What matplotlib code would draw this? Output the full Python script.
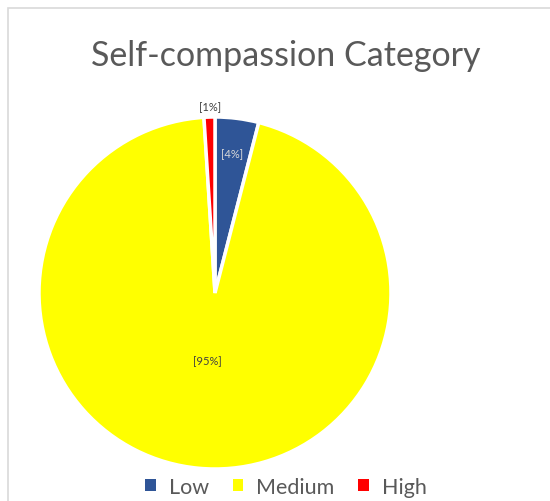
import matplotlib
matplotlib.use("Agg")
from matplotlib import pyplot as plt
from matplotlib.patches import Rectangle, Patch

categories = ["Low", "Medium", "High"]
percents = [4, 95, 1]
colors = ["#2F5597", "#FFFF00", "#FF0000"]
label_texts = ["[4%]", "[95%]", "[1%]"]

plt.rcParams['font.family'] = ['Lato', 'DejaVu Sans']

W, H = 550, 502
fig = plt.figure(figsize=(W / 100, H / 100), dpi=100)

# chart frame (cropped: only top and left borders show)
fig.patches.append(Rectangle((8 / W, -0.1), 1.2, (H - 9) / H + 0.1,
                             transform=fig.transFigure, fill=False,
                             edgecolor="#D9D9D9", linewidth=1.2))

cx, cy, r = 215, 294, 176
ax = fig.add_axes([(cx - r) / W, (H - cy - r) / H, 2 * r / W, 2 * r / H])
wedges, _ = ax.pie(percents, colors=colors, startangle=90, counterclock=False,
                   radius=1, wedgeprops=dict(edgecolor="white", linewidth=2.5))
ax.set_xlim(-1, 1)
ax.set_ylim(-1, 1)
ax.set_aspect("auto")
ax.axis("off")

# data labels
label_pos = [(0.097, 0.79), (-0.045, -0.386), (-0.028, 1.057)]
label_cols = ["#D9D9D9", "#404040", "#404040"]
for txt, (x, y), c in zip(label_texts, label_pos, label_cols):
    ax.text(x, y, txt, ha="center", va="center", fontsize=8, color=c,
            clip_on=False)

fig.text(286 / W, 1 - 56 / H, "Self-compassion Category", ha="center",
         va="center", fontsize=24.5, color="#595959")

handles = [Patch(facecolor=c, edgecolor="none") for c in colors]
fig.legend(handles, categories, loc="center", bbox_to_anchor=(286 / W, 1 - 488 / H),
           ncol=3, frameon=False, fontsize=15.5, labelcolor="#595959",
           handlelength=0.5, handleheight=0.5, handletextpad=0.6, columnspacing=1.1)

fig.savefig("out.png", dpi=100)
